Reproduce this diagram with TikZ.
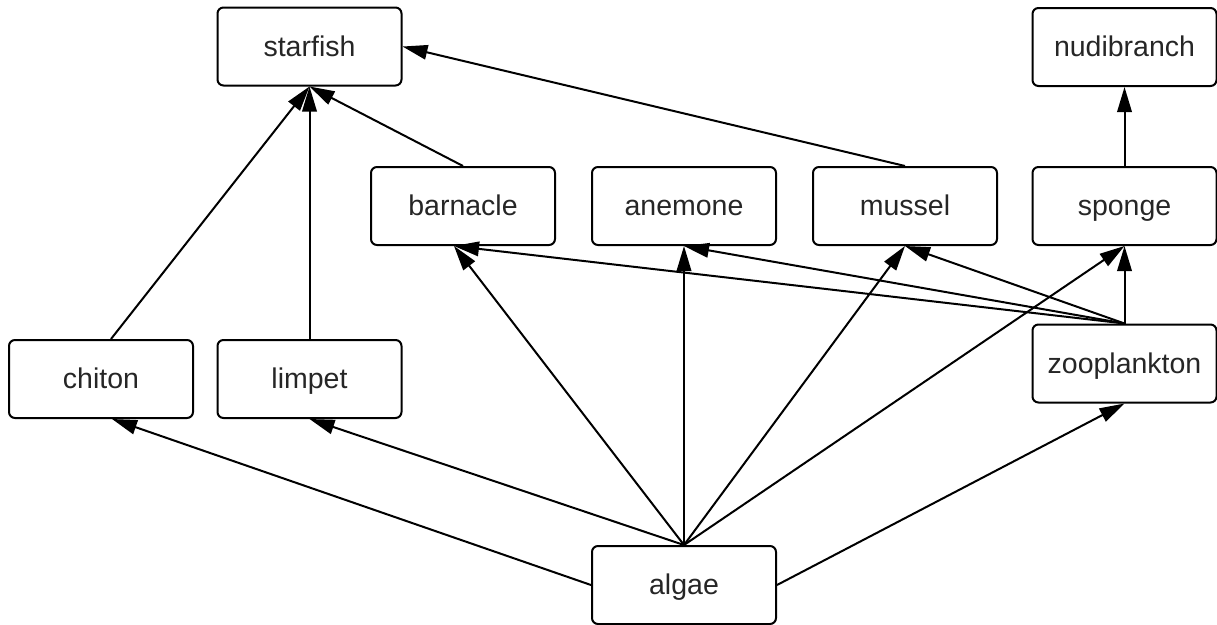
\documentclass[tikz,border=0pt]{standalone}
\usepackage{fontspec}
\setmainfont{Liberation Sans}
\usetikzlibrary{arrows.meta}
\begin{document}
\begin{tikzpicture}[x=1pt,y=-1pt,
  box/.style={draw=black, line width=2pt, rounded corners=6pt, minimum width=184pt, minimum height=78pt, inner sep=0pt, text height=21pt, text depth=2pt, text=black!85, font=\fontsize{28.5}{34}\selectfont},
  link/.style={line width=2pt, -{Triangle[length=25pt,width=14.5pt]}}]
\useasboundingbox (0,0) rectangle (1217,624);
\node[box] (starfish) at (309.5,46.5) {starfish};
\node[box] (nudibranch) at (1124.5,47) {nudibranch};
\node[box] (barnacle) at (463,206) {barnacle};
\node[box] (anemone) at (684,206) {anemone};
\node[box] (mussel) at (905,206) {mussel};
\node[box] (sponge) at (1124.5,206) {sponge};
\node[box] (chiton) at (101,379) {chiton};
\node[box] (limpet) at (309.5,379) {limpet};
\node[box] (zooplankton) at (1124.5,363.5) {zooplankton};
\node[box] (algae) at (684,585) {algae};
\draw[link] ([xshift=10pt]chiton.north) -- (starfish.south);
\draw[link] (limpet.north) -- (starfish.south);
\draw[link] (barnacle.north) -- (starfish.south);
\draw[link] (mussel.north) -- (starfish.east);
\draw[link] (sponge.north) -- (nudibranch.south);
\draw[link] (algae.west) -- ([xshift=11pt]chiton.south);
\draw[link] (algae.north) -- (limpet.south);
\draw[link] (algae.north) -- ([xshift=-9pt]barnacle.south);
\draw[link] (algae.north) -- (anemone.south);
\draw[link] (algae.north) -- (mussel.south);
\draw[link] (algae.north) -- (sponge.south);
\draw[link] (algae.east) -- (zooplankton.south);
\draw[link] (zooplankton.north) -- ([xshift=-9pt]barnacle.south);
\draw[link] (zooplankton.north) -- (anemone.south);
\draw[link] (zooplankton.north) -- (mussel.south);
\draw[link] (zooplankton.north) -- (sponge.south);
\end{tikzpicture}
\end{document}
